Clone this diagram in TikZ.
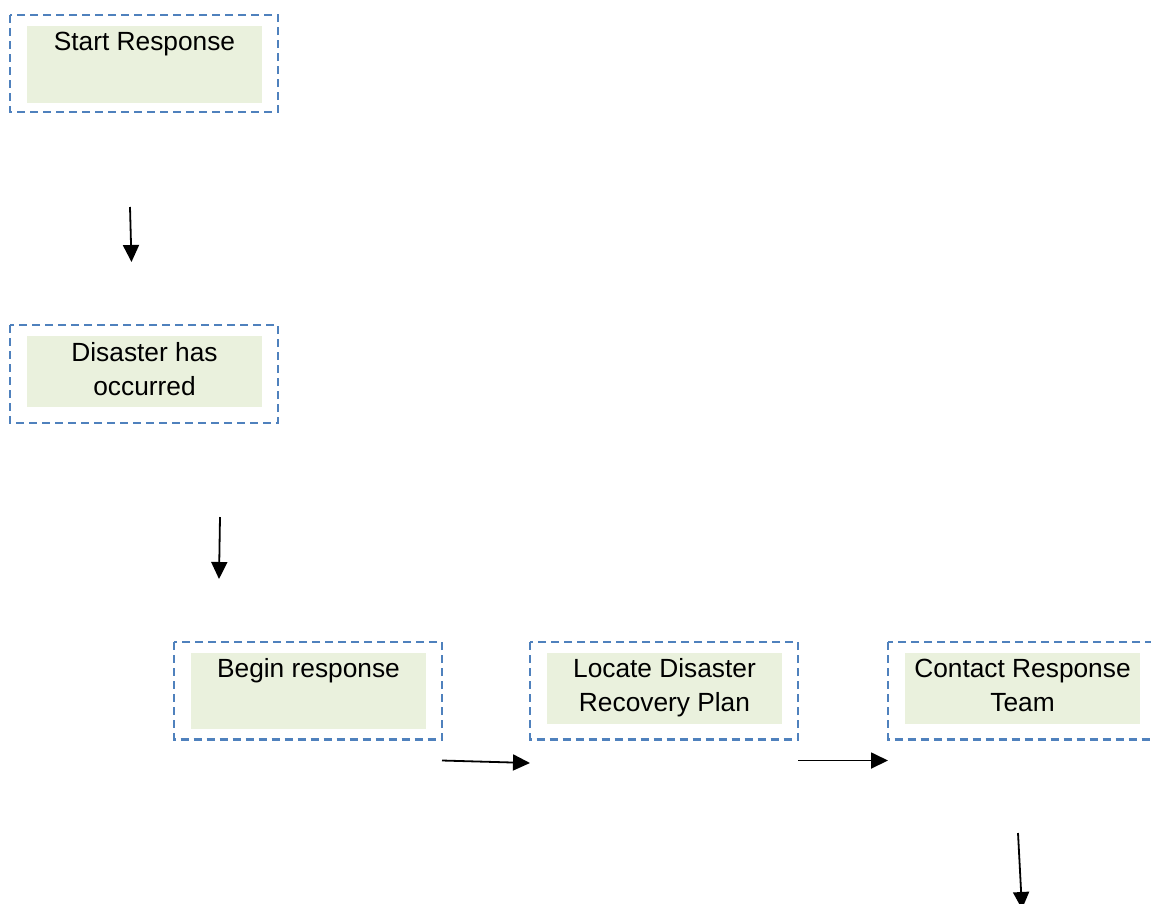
\documentclass[tikz,border=0pt]{standalone}
\usepackage{fontspec}
\setmainfont{Liberation Sans}
\usetikzlibrary{arrows.meta}
\definecolor{dashblue}{HTML}{4F81BD}
\definecolor{fillgreen}{HTML}{EAF1DD}
\tikzset{
  outerbox/.style={draw=dashblue, line width=2.5pt, dash pattern=on 8pt off 5pt},
  innerbox/.style={fill=fillgreen},
  lbl/.style={anchor=base, inner sep=0pt, font=\fontsize{26.3}{34}\selectfont},
  arr/.style={line width=1.8pt, -{Triangle[length=17pt,width=16pt]}}
}
\begin{document}
\begin{tikzpicture}[x=1pt,y=-1pt]
\clip (0,0) rectangle (1151,903);
\fill[white] (0,0) rectangle (1151,903);
% Box 1
\path[innerbox] (27,26) rectangle (262,103);
\draw[outerbox] (10,15) rectangle (278,112);
\node[lbl] (t1) at (144.5,50) {Start Response};
% Box 2
\path[innerbox] (27,336) rectangle (262,407);
\draw[outerbox] (10,325) rectangle (278,423);
\node[lbl] (t2a) at (144.5,361.5) {Disaster has};
\node[lbl] (t2b) at (144.5,395.5) {occurred};
% Box 3
\path[innerbox] (191,653) rectangle (426,729);
\draw[outerbox] (174,642) rectangle (442,739.5);
\node[lbl] (t3) at (308.5,677) {Begin response};
% Box 4
\path[innerbox] (547,653) rectangle (782,723.5);
\draw[outerbox] (530,642) rectangle (798,739.5);
\node[lbl] (t4a) at (664.5,677) {Locate Disaster};
\node[lbl] (t4b) at (664.5,711.5) {Recovery Plan};
% Box 5
\path[innerbox] (905,653) rectangle (1140,724);
\draw[outerbox] (888,642) rectangle (1170,739.5);
\node[lbl] (t5a) at (1022.5,677.5) {Contact Response};
\node[lbl] (t5b) at (1022.5,711.5) {Team};
% Arrows
\coordinate (a1s) at (130,207);
\coordinate (a1e) at (131.5,262);
\coordinate (a2s) at (220,517);
\coordinate (a2e) at (219,579);
\coordinate (a3s) at (442,760.5);
\coordinate (a3e) at (530,763);
\coordinate (a4s) at (798,760.5);
\coordinate (a4e) at (888,760.5);
\coordinate (a5s) at (1018,833);
\coordinate (a5e) at (1022,909);
\draw[arr] (a1s) -- (a1e);
\draw[arr] (a2s) -- (a2e);
\draw[arr] (a3s) -- (a3e);
\draw[arr] (a4s) -- (a4e);
\draw[arr] (a5s) -- (a5e);
\end{tikzpicture}
\end{document}
